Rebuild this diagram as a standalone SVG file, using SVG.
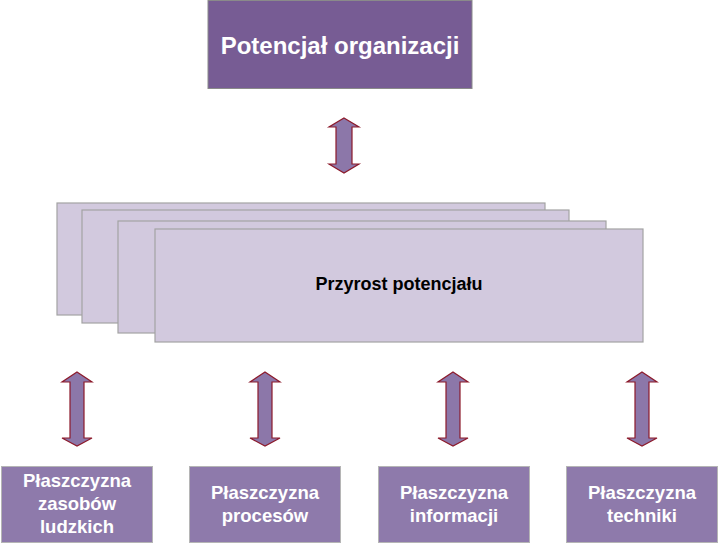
<svg xmlns="http://www.w3.org/2000/svg" width="719" height="543" viewBox="0 0 719 543">
<style>
.top{fill:#775c94;stroke:#8a8a8a;stroke-width:1}
.layer{fill:#d2c9de;stroke:#a3a3a3;stroke-width:1.2}
.plane{fill:#8e7aab;stroke:#b5b5b5;stroke-width:1}
.arr{fill:#8c77a9;stroke:#8c1a2b;stroke-width:1.2;stroke-linejoin:miter}
.wt{font-family:"Liberation Sans",Arial,sans-serif;font-weight:bold;fill:#ffffff;text-anchor:middle}
.bt{font-family:"Liberation Sans",Arial,sans-serif;font-weight:bold;fill:#000000;text-anchor:middle}
</style>
<rect width="719" height="543" fill="#ffffff"/>
<g id="potencjal">
<rect class="top" x="208" y="0.5" width="264" height="88"/>
<text class="wt" x="340" y="54" font-size="24">Potencjał organizacji</text>
</g>
<g id="przyrost">
<rect class="layer" x="57" y="203" width="488" height="112"/>
<rect class="layer" x="82" y="210" width="487" height="113"/>
<rect class="layer" x="118" y="221" width="488" height="112"/>
<rect class="layer" x="155" y="229" width="488" height="113"/>
<text class="bt" x="399" y="290" font-size="18">Przyrost potencjału</text>
</g>
<g id="connectors">
<path class="arr" d="M344,118 L359,127 L352,127 L352,164 L359,164 L344,173 L329,164 L336,164 L336,127 L329,127 Z"/>
<path class="arr" d="M77,372 L92,382 L84,382 L84,438 L92,438 L77,446 L62,438 L70,438 L70,382 L62,382 Z"/>
<path class="arr" d="M265,372 L280,382 L272,382 L272,438 L280,438 L265,446 L250,438 L258,438 L258,382 L250,382 Z"/>
<path class="arr" d="M453,372 L468,382 L460,382 L460,438 L468,438 L453,446 L438,438 L446,438 L446,382 L438,382 Z"/>
<path class="arr" d="M642,372 L657,382 L649,382 L649,438 L657,438 L642,446 L627,438 L635,438 L635,382 L627,382 Z"/>
</g>
<g id="zasoby">
<rect class="plane" x="1.5" y="466.5" width="151" height="76"/>
<text class="wt" x="77" y="487" font-size="18.5">Płaszczyzna</text>
<text class="wt" x="77" y="510" font-size="18.5">zasobów</text>
<text class="wt" x="77" y="533" font-size="18.5">ludzkich</text>
</g>
<g id="procesy">
<rect class="plane" x="189.5" y="466.5" width="151" height="76"/>
<text class="wt" x="265" y="499" font-size="18.5">Płaszczyzna</text>
<text class="wt" x="265" y="522" font-size="18.5">procesów</text>
</g>
<g id="informacja">
<rect class="plane" x="378.5" y="466.5" width="151" height="76"/>
<text class="wt" x="454" y="499" font-size="18.5">Płaszczyzna</text>
<text class="wt" x="454" y="522" font-size="18.5">informacji</text>
</g>
<g id="technika">
<rect class="plane" x="566.5" y="466.5" width="151" height="76"/>
<text class="wt" x="642" y="499" font-size="18.5">Płaszczyzna</text>
<text class="wt" x="642" y="522" font-size="18.5">techniki</text>
</g>
</svg>
